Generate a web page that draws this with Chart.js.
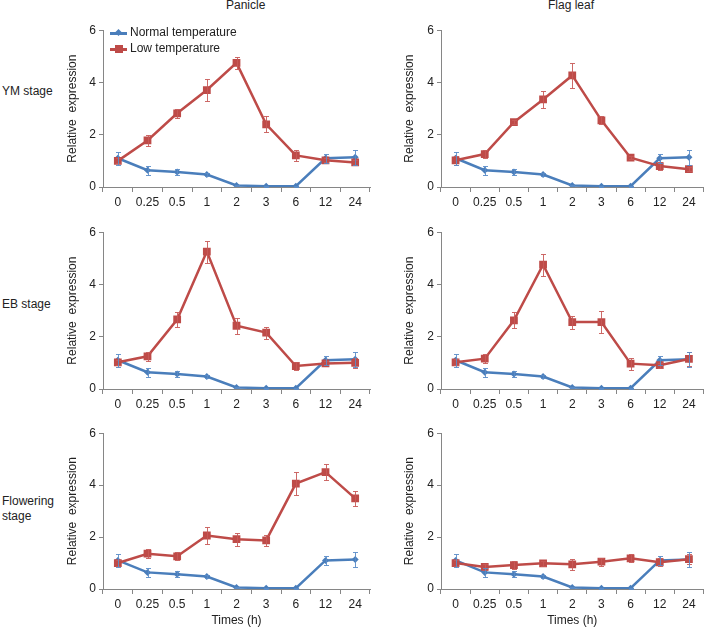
<!DOCTYPE html>
<html><head><meta charset="utf-8">
<script src="https://cdn.jsdelivr.net/npm/chart.js@4"></script>
<style>
body{margin:0;background:#fff;width:709px;height:628px;position:relative;overflow:hidden;font-family:"Liberation Sans",Arial,sans-serif;color:#222}
canvas{position:absolute}
.t{position:absolute;font-size:12px;white-space:nowrap;line-height:14px}
.lg{position:absolute;height:0}
</style></head><body>
<div class="t" style="left:226px;top:-2px">Panicle</div>
<div class="t" style="left:548px;top:-2px">Flag leaf</div>
<div class="t" style="left:2px;top:84px">YM stage</div>
<div class="t" style="left:2px;top:297px">EB stage</div>
<div class="t" style="left:2px;top:494px;line-height:15px">Flowering<br>stage</div>

<canvas id="c1" style="left:60px;top:20px"></canvas>
<canvas id="c2" style="left:397px;top:20px"></canvas>
<canvas id="c3" style="left:60px;top:222px"></canvas>
<canvas id="c4" style="left:397px;top:222px"></canvas>
<canvas id="c5" style="left:60px;top:423px"></canvas>
<canvas id="c6" style="left:397px;top:423px"></canvas>

<div style="position:absolute;left:110px;top:32px;width:17px;height:2.5px;background:#4A7EBB"></div>
<div style="position:absolute;left:115.5px;top:30px;width:5px;height:5px;background:#4A7EBB;transform:rotate(45deg)"></div>
<div class="t" style="left:130px;top:25px">Normal temperature</div>
<div style="position:absolute;left:110px;top:48px;width:17px;height:2.5px;background:#BE4B48"></div>
<div style="position:absolute;left:114.5px;top:45px;width:8px;height:8px;background:#BE4B48"></div>
<div class="t" style="left:130px;top:41px">Low temperature</div>

<script>
const categories = ['0','0.25','0.5','1','2','3','6','12','24'];
const yTicks = [0,2,4,6];

const normalMean = [1.10,0.64,0.57,0.48,0.06,0.03,0.03,1.10,1.14];
const normalErr  = [0.25,0.18,0.12,0.06,0.03,0.02,0.02,0.17,0.28];

const lowPanicleYM   = [1.00,1.78,2.82,3.71,4.75,2.40,1.21,1.02,0.94];
const errPanicleYM   = [0.10,0.20,0.17,0.43,0.23,0.30,0.20,0.08,0.08];
const lowFlagYM      = [1.02,1.26,2.48,3.35,4.27,2.55,1.12,0.80,0.68];
const errFlagYM      = [0.18,0.15,0.08,0.33,0.49,0.15,0.05,0.15,0.08];
const lowPanicleEB   = [1.02,1.25,2.66,5.26,2.42,2.16,0.88,0.98,1.00];
const errPanicleEB   = [0.10,0.17,0.30,0.42,0.30,0.23,0.17,0.08,0.20];
const lowFlagEB      = [1.02,1.16,2.63,4.76,2.56,2.56,0.97,0.91,1.15];
const errFlagEB      = [0.12,0.18,0.30,0.42,0.25,0.42,0.23,0.10,0.28];
const lowPanicleFL   = [1.00,1.36,1.26,2.06,1.92,1.87,4.06,4.50,3.49];
const errPanicleFL   = [0.10,0.18,0.15,0.33,0.25,0.22,0.45,0.30,0.28];
const lowFlagFL      = [1.00,0.85,0.92,0.99,0.95,1.05,1.18,1.03,1.15];
const errFlagFL      = [0.10,0.12,0.15,0.10,0.20,0.15,0.15,0.15,0.20];

const BLUE='#4A7EBB', RED='#BE4B48', AXIS='#868686', TXT='#222';
const FONT={family:'"Liberation Sans", Arial, sans-serif', size:12};

const errorBars={id:'errorBars',afterDatasetsDraw(chart){
  const ctx=chart.ctx, ys=chart.scales.y;
  chart.data.datasets.forEach((ds,i)=>{
    const meta=chart.getDatasetMeta(i);
    ctx.save(); ctx.strokeStyle=ds.errColor; ctx.lineWidth=1;
    meta.data.forEach((pt,j)=>{
      const v=ds.data[j], e=ds.errors[j];
      const yt=Math.round(ys.getPixelForValue(v+e))+0.5, yb=Math.round(ys.getPixelForValue(v-e))+0.5;
      const x=Math.round(pt.x)+0.5;
      ctx.beginPath();
      ctx.moveTo(x,yt);ctx.lineTo(x,yb);
      ctx.moveTo(x-2.5,yt);ctx.lineTo(x+2.5,yt);
      ctx.moveTo(x-2.5,yb);ctx.lineTo(x+2.5,yb);
      ctx.stroke();
    });
    ctx.restore();
  });
}};

function makeChart(id, low, lowErr, right, bottom){
  const el=document.getElementById(id);
  const w = right ? 312 : 316;
  const h = bottom ? 205 : 195;
  el.width=w; el.height=h; el.style.width=w+'px'; el.style.height=h+'px';
  const yW = right ? 44 : 43;
  const xH = bottom ? 39 : 28;
  new Chart(el,{
    type:'line',
    data:{labels:categories,datasets:[
      {label:'Low temperature',data:low,errors:lowErr,errColor:'rgba(200,90,88,0.9)',borderColor:RED,backgroundColor:RED,borderWidth:2.5,pointStyle:'rect',pointRadius:5.5,pointBorderWidth:0,tension:0,order:1},
      {label:'Normal temperature',data:normalMean,errors:normalErr,errColor:'rgba(90,140,200,0.9)',borderColor:BLUE,backgroundColor:BLUE,borderWidth:2.5,pointStyle:'rectRot',pointRadius:3.5,pointBorderWidth:0,tension:0,order:2}
    ]},
    options:{
      responsive:false,animation:false,devicePixelRatio:1,
      layout:{padding:{top:10,right:w-yW-267,left:0,bottom:0}},
      plugins:{legend:{display:false},tooltip:{enabled:false}},
      scales:{
        x:{type:'category',offset:true,
          grid:{offset:true,drawOnChartArea:false,tickLength:5,color:AXIS},
          border:{color:AXIS,width:1},
          ticks:{font:FONT,color:TXT,padding:3,maxRotation:0,autoSkip:false},
          title:{display:bottom,text:'Times (h)',font:FONT,color:TXT,padding:{top:0,bottom:0}},
          afterFit:s=>{s.height=xH;}
        },
        y:{min:0,max:6,
          afterBuildTicks:s=>{s.ticks=yTicks.map(v=>({value:v}));},
          grid:{drawOnChartArea:false,tickLength:4,color:AXIS},
          border:{color:AXIS,width:1},
          ticks:{font:FONT,color:TXT,padding:3},
          title:{display:true,text:'Relative  expression',font:FONT,color:TXT,padding:{top:5,bottom:0}},
          afterFit:s=>{s.width=yW;}
        }
      }
    },
    plugins:[errorBars]
  });
}
makeChart('c1',lowPanicleYM,errPanicleYM,false,false);
makeChart('c2',lowFlagYM,errFlagYM,true,false);
makeChart('c3',lowPanicleEB,errPanicleEB,false,false);
makeChart('c4',lowFlagEB,errFlagEB,true,false);
makeChart('c5',lowPanicleFL,errPanicleFL,false,true);
makeChart('c6',lowFlagFL,errFlagFL,true,true);
</script>
</body></html>
